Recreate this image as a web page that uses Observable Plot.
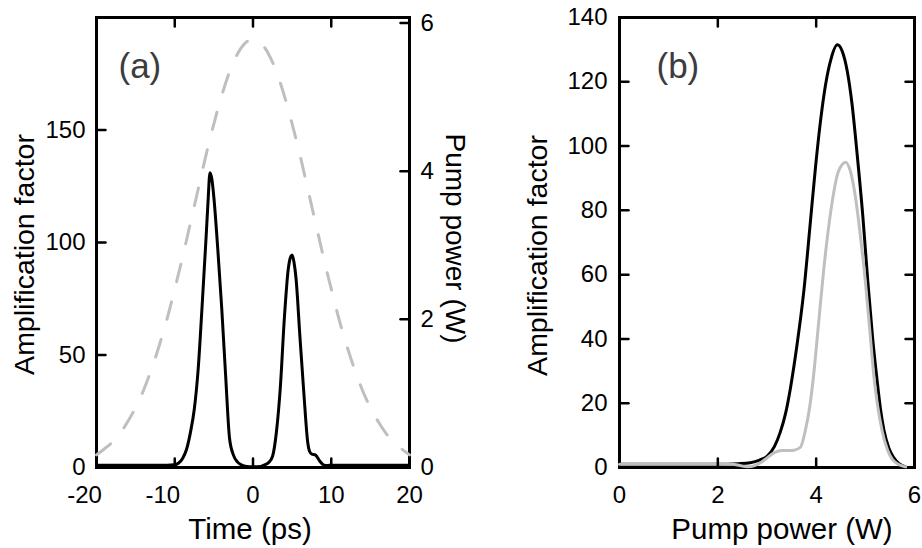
<!DOCTYPE html>
<html><head><meta charset="utf-8">
<script src="https://cdn.jsdelivr.net/npm/d3@7"></script>
<script src="https://cdn.jsdelivr.net/npm/@observablehq/plot@0.6"></script>
<style>
body{margin:0;background:#fff;}
#wrap{display:flex;width:922px;height:548px;}
</style>
</head><body><div id="wrap"><div id="pa"></div><div id="pb"></div></div>
<script>
// ---------- Panel (a): amplification vs time, and pump power ----------
const timePs = [-20,-14,-11,-10,-9.5,-9,-8.5,-8,-7.5,-7,-6.5,-6,-5.75,-5.5,-5.25,-5,-4.5,-4,-3.5,-3,-2.5,-2,-1.5,-1,0,1,1.5,2,2.5,3,3.5,4,4.5,4.75,5,5.25,5.5,6,6.5,7,7.25,7.5,8,8.5,9,9.5,10,14,20];
const ampTime = [1,1,1,1.2,2,4,8,15.5,26,44,72,102,118,131,128,120,97,71,41,13,5.5,2.5,1.2,0.6,0.3,0.5,1.2,2.2,5,16,36,66,88,93,94.5,91,84,58,33,11,7,6,5.5,3,1.2,0.9,1,1,1];
const pumpTimePs = [-20,-19,-18,-17,-16,-15,-14,-13,-12,-11,-10,-9,-8,-7,-6,-5,-4,-3,-2,-1,0,1,2,3,4,5,6,7,8,9,10,11,12,13,14,15,16,17,18,19,20];
const pumpWatts = [0.17,0.25,0.34,0.46,0.62,0.81,1.04,1.32,1.64,2.00,2.41,2.84,3.30,3.76,4.22,4.64,5.02,5.34,5.58,5.73,5.78,5.73,5.58,5.34,5.02,4.64,4.22,3.76,3.30,2.84,2.41,2.00,1.64,1.32,1.04,0.81,0.62,0.46,0.34,0.25,0.17];
const timeDomain = [-20, 20];
const ampDomainA = [0, 200];
const pumpMaxW = 6.075;
const timeTicks = [-20,-10,0,10,20];
const ampTicksA = [0,50,100,150];
const pumpTicks = [0,2,4,6];

// ---------- Panel (b): amplification vs pump power ----------
const powerBlack = [0,1,2,2.2,2.4,2.66,2.85,3.0,3.15,3.27,3.38,3.48,3.6,3.75,3.88,3.99,4.09,4.19,4.3,4.43,4.53,4.63,4.73,4.83,4.95,5.05,5.15,5.24,5.31,5.38,5.48,5.58,5.68,5.75,5.82];
const ampBlack   = [1,1,1,1.05,1.2,1.5,2.3,3.5,6.5,11,17,25,37,55,76,94,108,119,127,131.5,129.5,123.5,113,98,78,58,40,27,18,11.5,6,3,1.3,0.6,0.2];
const powerGray = [0,1,2,2.3,2.45,2.6,2.75,2.9,3.0,3.15,3.3,3.45,3.55,3.68,3.78,3.87,3.95,4.05,4.15,4.3,4.45,4.6,4.7,4.8,4.9,5.0,5.1,5.17,5.34,5.45,5.55,5.65,5.75,5.82];
const ampGray   = [1,1,1,1,0.6,0.2,0.6,1.8,3,4.6,5.3,5.3,5.4,6.3,11.5,19,29,45,61,80,92,95,92,84,72,58,41,29,11.5,5.5,2.5,1.2,0.5,0.2];
const powerDomain = [0, 6];
const ampDomainB = [0, 140];
const powerTicks = [0,2,4,6];
const ampTicksB = [0,20,40,60,80,100,120,140];

const ff = "Liberation Sans, Arial, Helvetica, sans-serif";

// inward ticks and box frame
const tk = {length: 9, anchor: "start", stroke: "#000", strokeWidth: 2.5,
  shape: {draw(ctx, l) { ctx.moveTo(0, 0); ctx.lineTo(0, -l); }}};
function frameBox(xd, yd) {
  const pts = [[xd[0], yd[0]], [xd[1], yd[0]], [xd[1], yd[1]], [xd[0], yd[1]], [xd[0], yd[0]]];
  return Plot.line(pts, {x: d => d[0], y: d => d[1], stroke: "#000", strokeWidth: 3});
}
function inwardTicks(xs, yl, yr) {
  return [
    Plot.vector(xs, {...tk, x: d => d, frameAnchor: "bottom", rotate: 0}),
    Plot.vector(xs, {...tk, x: d => d, frameAnchor: "top", rotate: 180}),
    Plot.vector(yl, {...tk, y: d => d, frameAnchor: "left", rotate: 90}),
    Plot.vector(yr, {...tk, y: d => d, frameAnchor: "right", rotate: -90})
  ];
}
const tx = {fontFamily: ff, fill: "#000", textAnchor: "middle", lineAnchor: "bottom"};

// ---- panel (a) ----
{
  const k = ampDomainA[1] / pumpMaxW;
  const black = timePs.map((t, i) => ({t, a: ampTime[i]}));
  const pump = pumpTimePs.map((t, i) => ({t, p: pumpWatts[i] * k}));
  const p = Plot.plot({
    width: 500, height: 548, marginLeft: 96, marginRight: 91, marginTop: 17, marginBottom: 81,
    x: {domain: timeDomain},
    y: {domain: ampDomainA},
    marks: [
      Plot.frame({stroke: "#000", strokeWidth: 3}),
      frameBox(timeDomain, ampDomainA),
      Plot.line(pump, {x: "t", y: "p", stroke: "#bfbfbf", strokeWidth: 3, strokeDasharray: "18,21", curve: "monotone-x"}),
      Plot.line(black, {x: "t", y: "a", stroke: "#000", strokeWidth: 3, curve: "monotone-x"}),
      ...inwardTicks(timeTicks.slice(1, -1), ampTicksA.slice(1), pumpTicks.slice(1).map(v => v * k)),
      Plot.axisX(timeTicks.filter(v => v < 0), {tickSize: 0, tickPadding: 18, dx: -12, tickFormat: d => String(d), label: null, fontSize: 24, fontFamily: ff}),
      Plot.axisX(timeTicks.filter(v => v >= 0), {tickSize: 0, tickPadding: 18, tickFormat: d => String(d), label: null, fontSize: 24, fontFamily: ff}),
      Plot.axisY(ampTicksA, {anchor: "left", tickSize: 0, tickPadding: 11, tickFormat: d => String(d), label: null, fontSize: 24, fontFamily: ff}),
      Plot.axisY(pumpTicks.map(v => v * k), {anchor: "right", tickSize: 0, tickPadding: 11, tickFormat: d => String(Math.round(d / k)), label: null, fontSize: 24, fontFamily: ff}),
      Plot.text(["Amplification factor"], {...tx, text: d => d, frameAnchor: "left", rotate: -90, dx: -63, dy: 12, fontSize: 28.5}),
      Plot.text(["Pump power (W)"], {...tx, text: d => d, frameAnchor: "right", rotate: 90, dx: 36, dy: -4, fontSize: 28}),
      Plot.text(["Time (ps)"], {...tx, text: d => d, frameAnchor: "bottom", dx: -3, dy: 71, fontSize: 29.5}),
      Plot.text(["(a)"], {...tx, text: d => d, frameAnchor: "top-left", dx: 22, dy: 60, textAnchor: "start", fontSize: 35, fill: "#3c3c3c"})
    ]
  });
  document.getElementById("pa").appendChild(p);
}

// ---- panel (b) ----
{
  const black = powerBlack.map((x, i) => ({x, a: ampBlack[i]}));
  const gray = powerGray.map((x, i) => ({x, a: ampGray[i]}));
  const innerY = ampTicksB.slice(1, -1);
  const p = Plot.plot({
    width: 422, height: 548, marginLeft: 119, marginRight: 8, marginTop: 17, marginBottom: 81,
    x: {domain: powerDomain},
    y: {domain: ampDomainB},
    marks: [
      Plot.frame({stroke: "#000", strokeWidth: 3}),
      frameBox(powerDomain, ampDomainB),
      Plot.line(black, {x: "x", y: "a", stroke: "#000", strokeWidth: 3, curve: "monotone-x"}),
      Plot.line(gray, {x: "x", y: "a", stroke: "#bfbfbf", strokeWidth: 3, curve: "monotone-x"}),
      ...inwardTicks(powerTicks.slice(1, -1), innerY, innerY),
      Plot.axisX(powerTicks, {tickSize: 0, tickPadding: 18, tickFormat: d => String(d), label: null, fontSize: 24, fontFamily: ff}),
      Plot.axisY(ampTicksB, {anchor: "left", tickSize: 0, tickPadding: 12, tickFormat: d => String(d), label: null, fontSize: 24, fontFamily: ff}),
      Plot.text(["Amplification factor"], {...tx, text: d => d, frameAnchor: "left", rotate: -90, dx: -73, dy: 13, fontSize: 28.5}),
      Plot.text(["Pump power (W)"], {...tx, text: d => d, frameAnchor: "bottom", dx: 15, dy: 71, fontSize: 29.5}),
      Plot.text(["(b)"], {...tx, text: d => d, frameAnchor: "top-left", dx: 37, dy: 60, textAnchor: "start", fontSize: 35, fill: "#3c3c3c"})
    ]
  });
  document.getElementById("pb").appendChild(p);
}
</script></body></html>
